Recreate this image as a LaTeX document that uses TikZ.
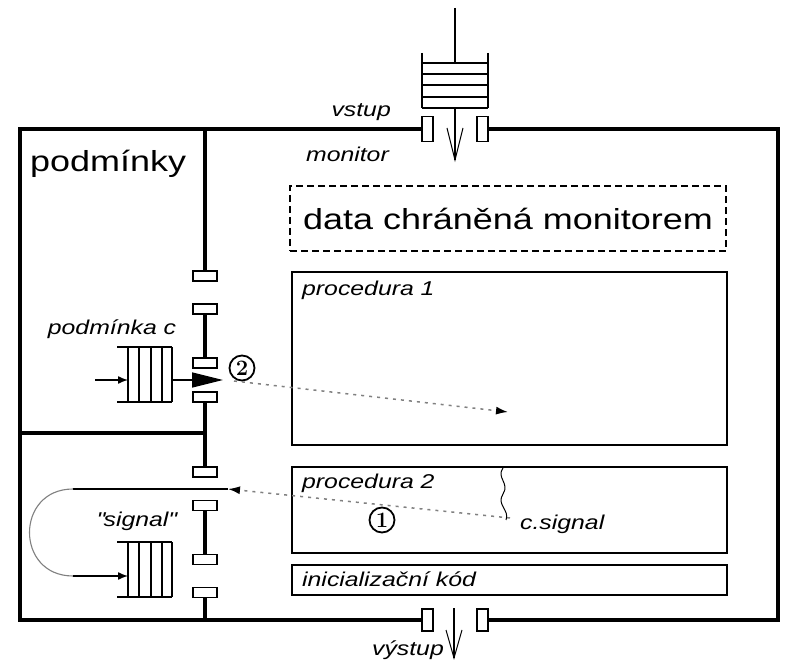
\documentclass[tikz,border=0pt]{standalone}
\usepackage{fontspec}
\setsansfont{Liberation Sans}[FakeStretch=1.24]
\usetikzlibrary{arrows.meta}

\begin{document}
\begin{tikzpicture}[x=1pt,y=-1pt,
  wall/.style={line width=4pt},
  inner wall/.style={line width=3.4pt},
  gate/.style={draw, line width=1.4pt, fill=white, minimum width=24pt, minimum height=10pt, inner sep=0pt, outer sep=0pt},
  door/.style={draw, line width=1.4pt, fill=white, minimum width=11pt, inner sep=0pt, outer sep=0pt},
  procbox/.style={draw, line width=2pt, minimum width=435pt, inner sep=0pt},
  lbl/.style={font=\sffamily\itshape\fontsize{20pt}{22pt}\selectfont, inner sep=0pt},
  big/.style={font=\sffamily\fontsize{29pt}{32pt}\selectfont, inner sep=0pt},
  qline/.style={line width=1.4pt},
  flow/.style={line width=1.4pt, -{Latex[length=10pt,width=8pt]}},
  dots/.style={gray, line width=1.5pt, dash pattern=on 3pt off 5pt},
  num/.style={circle, draw, line width=1.8pt, minimum size=25pt, inner sep=0pt, font=\rmfamily\bfseries\fontsize{22pt}{22pt}\selectfont},
  fifo/.pic={
    \draw[qline] (0,0) -- (55,0) (0,55) -- (55,55);
    \foreach \qx in {11,22,34,45,55} \draw[qline] (\qx,0) -- (\qx,55);
  },
]
\useasboundingbox (0,0) rectangle (788,668);

% ---- corners of the monitor ----
\coordinate (cTL) at (20,129);
\coordinate (cBL) at (20,620);
\coordinate (cTR) at (778,129);
\coordinate (cBR) at (778,620);

% ---- entry and exit doors ----
\node[door, minimum height=25pt] (dTL) at (427.5,129) {};
\node[door, minimum height=25pt] (dTR) at (482.5,129) {};
\node[door, minimum height=22pt] (dBL) at (427.5,620) {};
\node[door, minimum height=22pt] (dBR) at (482.5,620) {};

\draw[wall] (dTL.west) -- (cTL) -- (cBL) -- (dBL.west);
\draw[wall] (dTR.east) -- (cTR) -- (cBR) -- (dBR.east);

% ---- wall between the condition area and the monitor ----
\foreach \gy [count=\gi] in {276,309,363,397,472,505.5,559.5,592.5}
  \node[gate] (g\gi) at (205,\gy) {};
\coordinate (pTop) at (205,129);
\coordinate (pBot) at (205,620);
\coordinate (pMid) at (205,433);
\coordinate (lMid) at (20,433);
\draw[inner wall] (pTop) -- (g1.north);
\draw[inner wall] (g2.south) -- (g3.north);
\draw[inner wall] (g4.south) -- (g5.north);
\draw[inner wall] (g6.south) -- (g7.north);
\draw[inner wall] (g8.south) -- (pBot);
\draw[inner wall] (lMid) -- (pMid);

% ---- entry queue ----
\coordinate (feed) at (455,8);
\coordinate (qTop) at (455,63);
\coordinate (qBot) at (455,108);
\coordinate (inTip) at (455,160);
\coordinate (inVL) at (447,128);
\coordinate (inVR) at (463,128);
\draw[qline] (feed) -- (qTop);
\draw[qline] (422,53) -- (422,108) (488,53) -- (488,108);
\foreach \qy in {63,74,85,97,108} \draw[qline] (422,\qy) -- (488,\qy);
\draw[qline] (qBot) -- (inTip);
\draw[line width=1pt] (inVL) -- (inTip) -- (inVR);

% ---- exit arrow ----
\coordinate (outTop) at (454,608);
\coordinate (outTip) at (454,658);
\coordinate (outVL) at (446,630);
\coordinate (outVR) at (462,630);
\draw[qline] (outTop) -- (outTip);
\draw[line width=1pt] (outVL) -- (outTip) -- (outVR);

% ---- labels at the doors ----
\node[lbl, anchor=east] (lblIn) at (391,112) {vstup};
\node[lbl, anchor=east] (lblMon) at (389,154) {monitor};
\node[lbl, anchor=east] (lblOut) at (444,650) {výstup};

% ---- monitor contents ----
\node[big, anchor=west] (lblConds) at (30,164) {podmínky};
\node[draw, line width=1.5pt, dash pattern=on 7pt off 4pt, minimum width=436pt, minimum height=65pt, big] (data) at (508,218.5) {data chráněná monitorem};
\node[procbox, minimum height=173pt] (p1) at (509.5,358.5) {};
\node[procbox, minimum height=86pt] (p2) at (509.5,510) {};
\node[procbox, minimum height=30pt] (init) at (509.5,580) {};
\node[lbl, anchor=west] (p1t) at (302,290) {procedura 1};
\node[lbl, anchor=west] (p2t) at (302,483) {procedura 2};
\node[lbl, anchor=west] (initt) at (302,579) {inicializační kód};
\node[lbl, anchor=west] (csigt) at (520,524) {c.signal};

% ---- condition queue ----
\node[lbl] (lblC) at (112,329) {podmínka c};
\pic at (117,347) {fifo};
\coordinate (cIn) at (95,380);
\coordinate (cqIn) at (128,380);
\coordinate (cqOut) at (172,380);
\coordinate (cTip) at (223,380);
\draw[flow] (cIn) -- (cqIn);
\draw[line width=1.4pt, -{Triangle[length=31pt,width=15pt]}] (cqOut) -- (cTip);
\node[num] (n2) at (242,368) {2};
\coordinate (d2s) at (234,381);
\coordinate (d2e) at (508,412);
\draw[dots, -{Latex[length=12pt,width=8pt,black]}] (d2s) -- (d2e);

% ---- signal queue ----
\node[lbl] (lblSig) at (136,521) {\textquotedbl signal\textquotedbl};
\pic at (117,542) {fifo};
\coordinate (csig) at (510,518);
\coordinate (sTip) at (228,489);
\coordinate (arcTop) at (73,489);
\coordinate (arcBot) at (73,576);
\coordinate (sqIn) at (128,576);
\draw[dots, -{Latex[length=12pt,width=8pt,black]}] (csig) -- (sTip);
\draw[qline] (sTip) -- (arcTop);
\draw[gray, line width=1.1pt] (arcTop) .. controls (15,489) and (15,576) .. (arcBot);
\draw[flow] (arcBot) -- (sqIn);
\node[num] (n1) at (382,520) {1};

% ---- wavy marker above c.signal ----
\coordinate (wTop) at (503,468);
\coordinate (wMid) at (503,494);
\coordinate (wBot) at (506,520);
\draw[line width=1pt] (wTop) .. controls (496,478) and (510,483) .. (wMid)
                      .. controls (496,505) and (510,510) .. (wBot);
\end{tikzpicture}
\end{document}
